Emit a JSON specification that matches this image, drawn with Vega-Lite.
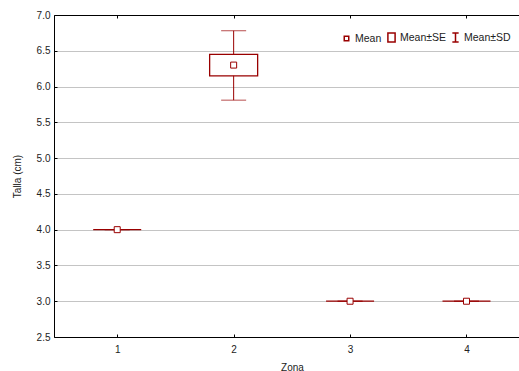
{
  "$schema": "https://vega.github.io/schema/vega-lite/v6.json",
  "width": 465,
  "height": 322,
  "autosize": {"type": "none"},
  "padding": {"left": 54, "top": 15, "right": 0, "bottom": 34},
  "background": "white",
  "config": {
    "font": "Liberation Sans",
    "view": {"stroke": null},
    "axis": {
      "labelFont": "Liberation Sans",
      "titleFont": "Liberation Sans",
      "labelFontSize": 10,
      "titleFontSize": 10,
      "titleFontWeight": "normal",
      "labelColor": "#222222",
      "titleColor": "#222222",
      "domainColor": "#000000",
      "tickColor": "#000000",
      "domainWidth": 1,
      "tickWidth": 1,
      "labelOverlap": false
    }
  },
  "resolve": {"axis": {"x": "independent", "y": "independent"}},
  "data": {
    "values": [
      {"zona": 1, "mean": 4.0, "se_lo": 4.0, "se_hi": 4.0, "sd_lo": 4.0, "sd_hi": 4.0},
      {"zona": 2, "mean": 6.3, "se_lo": 6.15, "se_hi": 6.45, "sd_lo": 5.81, "sd_hi": 6.78},
      {"zona": 3, "mean": 3.0, "se_lo": 3.0, "se_hi": 3.0, "sd_lo": 3.0, "sd_hi": 3.0},
      {"zona": 4, "mean": 3.0, "se_lo": 3.0, "se_hi": 3.0, "sd_lo": 3.0, "sd_hi": 3.0}
    ]
  },
  "layer": [
    {
      "mark": {"type": "rule", "color": "#990000", "strokeWidth": 1},
      "encoding": {
        "x": {
          "field": "zona", "type": "quantitative",
          "scale": {"domain": [0.5, 4.408], "nice": false, "zero": false},
          "axis": {
            "title": "Zona", "values": [1, 2, 3, 4], "format": "d",
            "grid": false, "tickSize": -3, "labelPadding": 10, "titlePadding": 8, "titleX": 238
          }
        },
        "y": {
          "field": "sd_lo", "type": "quantitative",
          "scale": {"domain": [2.5, 7.0], "nice": false, "zero": false},
          "axis": {
            "title": "Talla (cm)", "values": [2.5, 3, 3.5, 4, 4.5, 5, 5.5, 6, 6.5, 7],
            "format": ".1f", "grid": true, "gridColor": "#c4c4c4", "gridWidth": 1,
            "tickSize": -3, "labelPadding": 7, "titlePadding": 14, "labelOverlap": false
          }
        },
        "y2": {"field": "sd_hi"}
      }
    },
    {
      "mark": {"type": "tick", "orient": "horizontal", "size": 25, "thickness": 1, "color": "#990000"},
      "encoding": {
        "x": {"field": "zona", "type": "quantitative", "axis": null},
        "y": {"field": "sd_hi", "type": "quantitative", "axis": null}
      }
    },
    {
      "mark": {"type": "tick", "orient": "horizontal", "size": 25, "thickness": 1, "color": "#990000"},
      "encoding": {
        "x": {"field": "zona", "type": "quantitative", "axis": {"orient": "top", "labels": false, "title": null, "values": [1, 2, 3, 4], "grid": false, "tickSize": -3}},
        "y": {"field": "sd_lo", "type": "quantitative", "axis": null}
      }
    },
    {
      "mark": {"type": "bar", "size": 48, "fill": "white", "stroke": "#990000", "strokeWidth": 1.3},
      "encoding": {
        "x": {"field": "zona", "type": "quantitative", "axis": null},
        "y": {"field": "se_lo", "type": "quantitative", "axis": null},
        "y2": {"field": "se_hi"}
      }
    },
    {
      "mark": {"type": "point", "filled": true, "fill": "white", "stroke": "#990000", "strokeWidth": 1, "size": 144, "opacity": 1},
      "encoding": {
        "x": {"field": "zona", "type": "quantitative", "axis": null},
        "y": {"field": "mean", "type": "quantitative", "axis": null},
        "shape": {
          "datum": "Mean",
          "scale": {
            "domain": ["Mean", "Mean±SE", "Mean±SD"],
            "range": ["M-0.5,-0.5H0.5V0.5H-0.5Z", "M-0.8,-1H0.8V1H-0.8Z", "M-0.7,-1H0.7M0,-1V1M-0.7,1H0.7"]
          },
          "legend": {
            "title": null, "orient": "none", "legendX": 287, "legendY": 17,
            "direction": "horizontal", "symbolSize": 81,
            "labelFont": "Liberation Sans", "labelFontSize": 10.5, "labelColor": "#222222",
            "labelOffset": 3, "columnPadding": 2,
            "encode": {
              "symbols": {
                "update": {
                  "stroke": {"value": "#990000"},
                  "fill": {"value": "white"},
                  "strokeWidth": {"value": 1.2},
                  "opacity": {"value": 1},
                  "size": {"value": 81}
                }
              }
            }
          }
        }
      }
    }
  ]
}
